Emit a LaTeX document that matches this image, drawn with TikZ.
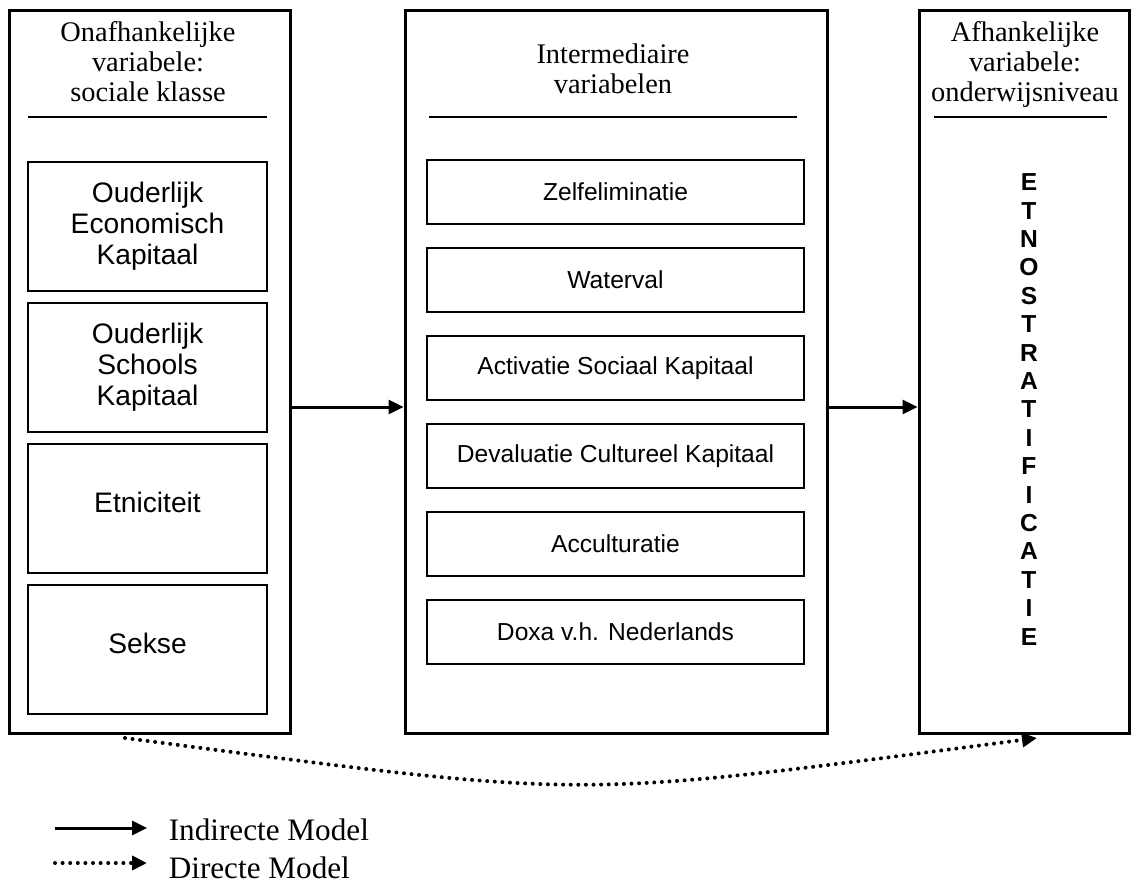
\documentclass[tikz,border=0pt]{standalone}
\usepackage{fontspec}
\setmainfont{Liberation Serif}
\setsansfont{Liberation Sans}
\usetikzlibrary{positioning,arrows.meta}

\begin{document}
\begin{tikzpicture}[x=0.5pt, y=-0.5pt, thick, node distance=5pt]
% Definition of blocks:
\tikzset{%
  frame/.style    = {draw, line width=1.5pt, rectangle, minimum height=361.5pt},
  header/.style   = {align=center, anchor=north, inner sep=0pt, font=\fontsize{14.2}{15}\selectfont},
  factor/.style   = {draw, line width=1pt, rectangle, align=center, minimum width=119.5pt, minimum height=64.5pt, font=\sffamily\fontsize{14.1}{15.5}\selectfont},
  mediator/.style = {draw, line width=1pt, rectangle, minimum width=188.5pt, minimum height=32pt, font=\sffamily\fontsize{12.3}{14}\selectfont, node distance=11pt},
  rule/.style     = {line width=1pt},
  indirect/.style = {line width=1.5pt, -{Triangle[length=7.5pt,width=7pt]}},
  direct/.style   = {line width=2pt, line cap=round, dash pattern=on 0pt off 3.8pt, -{Triangle[length=7.5pt,width=7pt]}},
  legend/.style   = {anchor=base west, inner sep=0pt, font=\fontsize{15.6}{18}\selectfont}
}
\useasboundingbox (0,0) rectangle (1131,891);

% outer boxes
\draw
	node [frame, minimum width=140.5pt] (Onafh) at (149.5,371.5) {}
	node [frame, minimum width=211pt] (Inter) at (616,371.5) {}
	node [frame, minimum width=105pt] (Afh) at (1024,371.5) {};

\node [header] (OnafhHead) at (148,21) {Onafhankelijke\\variabele:\\sociale klasse};
\node [header] (InterHead) at (613,43) {Intermediaire\\variabelen};
\node [header] (AfhHead) at (1025,21) {Afhankelijke\\variabele:\\onderwijsniveau};
\draw[rule] (28,117) -- (267,117);
\draw[rule] (429,117) -- (797,117);
\draw[rule] (934,117) -- (1107,117);

% independent variables
\draw
	node [factor] (Econ) at (147.5,226.5) {Ouderlijk\\Economisch\\Kapitaal}
	node [factor, below = of Econ] (School) {Ouderlijk\\Schools\\Kapitaal}
	node [factor, below = of School, text depth=6pt] (Etni) {Etniciteit}
	node [factor, below = of Etni, text depth=6pt] (Sekse) {Sekse};

% intermediate variables
\draw
	node [mediator] (Zelf) at (615.5,192) {Zelfeliminatie}
	node [mediator, below = of Zelf] (Water) {Waterval}
	node [mediator, below = of Water] (Activ) {Activatie Sociaal Kapitaal}
	node [mediator, below = of Activ] (Deval) {Devaluatie Cultureel Kapitaal}
	node [mediator, below = of Deval] (Accul) {Acculturatie}
	node [mediator, below = of Accul] (Doxa) {Doxa v.h. Nederlands};

% dependent variable
\node [align=center, anchor=north, inner sep=0pt, font=\sffamily\bfseries\fontsize{12.3}{14.2}\selectfont] (Etno) at (1029,173)
	{E\\T\\N\\O\\S\\T\\R\\A\\T\\I\\F\\I\\C\\A\\T\\I\\E};

\coordinate (flow) at (0,407);
\draw[indirect](Onafh.east |- flow) -- (Inter.west |- flow);
\draw[indirect](Inter.east |- flow) -- (Afh.west |- flow);

\coordinate (dstart) at (125,738);
\coordinate (dend) at (1037,738);
\draw[direct](dstart) .. controls (600,800) and (560,800) .. (dend);

% legend
\node [legend] (LInd) at (168,840) {Indirecte Model};
\node [legend] (LDir) at (168,878) {Directe Model};
\coordinate (LIndStart) at (55,828);
\coordinate (LDirStart) at (55,863);
\draw[indirect, shorten >=10.5pt](LIndStart) -- (LIndStart -| LInd.west);
\draw[direct, shorten >=10.5pt](LDirStart) -- (LDirStart -| LDir.west);

\end{tikzpicture}
\end{document}
